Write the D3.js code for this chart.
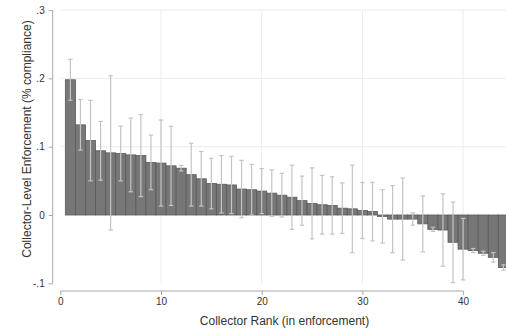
<!DOCTYPE html>
<html>
<head>
<meta charset="utf-8">
<script src="https://cdn.jsdelivr.net/npm/d3@7"></script>
<style>
  html, body { margin: 0; padding: 0; background: #fff; }
  svg { display: block; font-family: "Liberation Sans", Arial, Helvetica, sans-serif; }
</style>
</head>
<body>
<svg id="chart" width="506" height="331"></svg>
<script>
// Collector rank (1 = strongest enforcement)
const ranks = d3.range(1, 45);

// Estimated collector-level enforcement effect
const effects = [
  0.198, 0.132, 0.109, 0.094, 0.091, 0.090, 0.088, 0.087, 0.077, 0.076,
  0.072, 0.0685, 0.059, 0.053, 0.046, 0.045, 0.044, 0.038, 0.037, 0.035,
  0.032, 0.029, 0.026, 0.021, 0.017, 0.015, 0.014, 0.010, 0.009, 0.0066,
  0.005, -0.002, -0.006, -0.006, -0.006, -0.013, -0.021, -0.022, -0.040, -0.050,
  -0.052, -0.056, -0.062, -0.077
];

// Half-width of the confidence interval around each effect
const halfCI = [
  0.030, 0.037, 0.059, 0.043, 0.113, 0.040, 0.054, 0.060, 0.040, 0.063,
  0.058, 0.004, 0.046, 0.040, 0.037, 0.042, 0.042, 0.042, 0.037, 0.033,
  0.034, 0.032, 0.047, 0.036, 0.052, 0.043, 0.042, 0.037, 0.064, 0.041,
  0.043, 0.039, 0.049, 0.060, 0.009, 0.041, 0.003, 0.053, 0.059, 0.045,
  0.003, 0.003, 0.007, 0.004
];

const xTicks = [0, 10, 20, 30, 40];
const yTicks = [-0.1, 0, 0.1, 0.2, 0.3];
const yTickLabels = ["-.1", "0", ".1", ".2", ".3"];

const rows = ranks.map((r, i) => ({
  rank: r, value: effects[i], lo: effects[i] - halfCI[i], hi: effects[i] + halfCI[i]
}));

const svg = d3.select("#chart");
const W = 506, H = 331;

const x = d3.scaleLinear().domain([0, 40]).range([60.3, 463.1]);
const y = d3.scaleLinear().domain([-0.1, 0.3]).range([283.3, 10.1]);
const unit = x(1) - x(0);

// Grid lines
const grid = svg.append("g");
grid.selectAll("line.gx").data(xTicks.slice(1)).join("line")
  .attr("x1", d => x(d)).attr("x2", d => x(d))
  .attr("y1", y(0.3)).attr("y2", y(-0.1))
  .attr("stroke", "#ececec").attr("stroke-width", 1);
grid.selectAll("line.gy").data([0.1, 0.2, 0.3]).join("line")
  .attr("x1", x(0)).attr("x2", W)
  .attr("y1", d => y(d)).attr("y2", d => y(d))
  .attr("stroke", "#ececec").attr("stroke-width", 1);

// Bars, centred on each rank
const plot = svg.append("g");
plot.selectAll("rect").data(rows).join("rect")
  .attr("x", d => x(d.rank - 0.5))
  .attr("width", unit)
  .attr("y", d => y(Math.max(0, d.value)))
  .attr("height", d => Math.abs(y(d.value) - y(0)))
  .attr("fill", "#777777")
  .attr("stroke", "#5a5a5a")
  .attr("stroke-width", 0.8);

// Confidence intervals
const ci = plot.append("g").attr("stroke", "#c4c4c4").attr("stroke-width", 1.2);
ci.selectAll("line.v").data(rows).join("line")
  .attr("x1", d => x(d.rank)).attr("x2", d => x(d.rank))
  .attr("y1", d => y(d.hi)).attr("y2", d => y(d.lo));
ci.selectAll("line.hi").data(rows).join("line")
  .attr("x1", d => x(d.rank) - 2.2).attr("x2", d => x(d.rank) + 2.2)
  .attr("y1", d => y(d.hi)).attr("y2", d => y(d.hi));
ci.selectAll("line.lo").data(rows).join("line")
  .attr("x1", d => x(d.rank) - 2.2).attr("x2", d => x(d.rank) + 2.2)
  .attr("y1", d => y(d.lo)).attr("y2", d => y(d.lo));

// Axes
const axisColor = "#a8a8a8";
const xAxis = svg.append("g").attr("transform", "translate(0,291)")
  .call(d3.axisBottom(x).tickValues(xTicks).tickFormat(d3.format("d")).tickSize(4).tickPadding(3));
const yAxis = svg.append("g").attr("transform", "translate(52.7,0)")
  .call(d3.axisLeft(y).tickValues(yTicks).tickFormat((d, i) => yTickLabels[i]).tickSize(4).tickPadding(4));
[xAxis, yAxis].forEach(a => {
  a.select(".domain").attr("stroke", axisColor);
  a.selectAll(".tick line").attr("stroke", axisColor);
  a.selectAll(".tick text").attr("fill", "#333").style("font-size", "10px")
    .style("font-family", "'Liberation Sans', Arial, sans-serif");
});
yAxis.select(".domain").attr("d", `M-4,${y(0.3)}H0V${y(-0.1)}H-4`).attr("d", `M0,${y(0.3)}V${y(-0.1)}`);
xAxis.select(".domain").attr("d", `M${x(0)},0H${x(40)}`);

// Axis titles
svg.append("text")
  .attr("x", 284.5).attr("y", 325)
  .attr("text-anchor", "middle")
  .attr("fill", "#333").style("font-size", "12px")
  .text("Collector Rank (in enforcement)");
svg.append("text")
  .attr("transform", "translate(30.5,139) rotate(-90)")
  .attr("text-anchor", "middle")
  .attr("fill", "#333").style("font-size", "12px")
  .text("Collector-Level Enforcement (% compliance)");
</script>
</body>
</html>
